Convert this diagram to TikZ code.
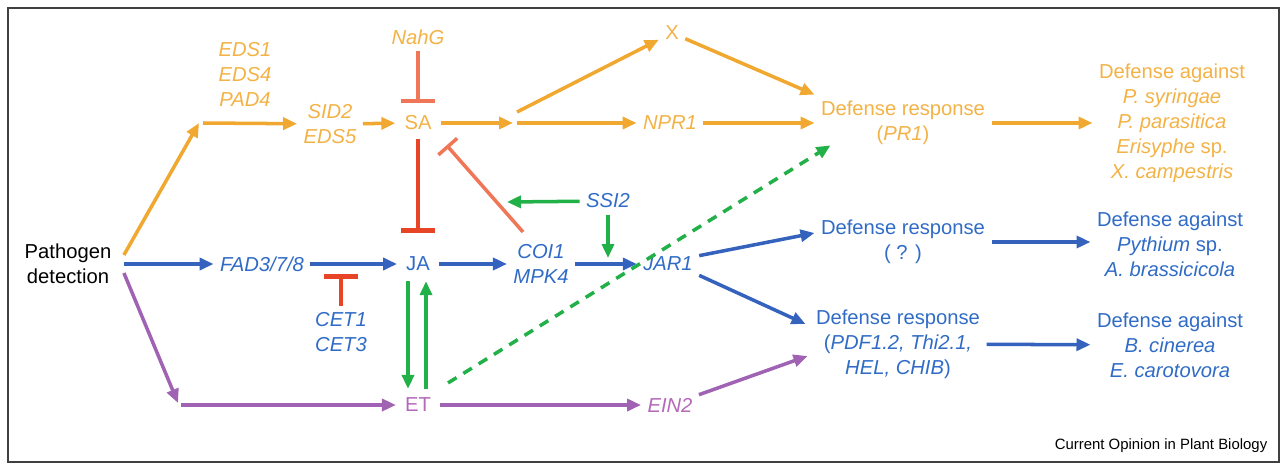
\documentclass[tikz,border=0pt]{standalone}
\usepackage{fontspec}
\setmainfont{Liberation Sans}
\definecolor{SAorange}{RGB}{240,168,48}
\definecolor{SAtext}{RGB}{243,178,70}
\definecolor{JAblue}{RGB}{52,98,188}
\definecolor{JAtext}{RGB}{48,108,198}
\definecolor{ETpurple}{RGB}{160,98,178}
\definecolor{ETtext}{RGB}{180,105,185}
\definecolor{SigGreen}{RGB}{34,176,72}
\definecolor{InhRed}{RGB}{232,68,38}
\definecolor{InhSalmon}{RGB}{240,118,88}
\usetikzlibrary{arrows.meta,calc}

\begin{document}
\begin{tikzpicture}[x=0.02cm,y=-0.02cm,
        every node/.style={font=\fontsize{11.5}{14.2}\selectfont,inner sep=3.5pt,align=center},
        gene/.style={font=\fontsize{11.5}{14.2}\selectfont\itshape},
        small/.style={inner sep=5pt},
        arr/.style={-{Triangle[length=0.28cm,width=0.24cm]},line width=2pt},
        inh/.style={-{Bar[width=0.68cm]},line width=2pt},
        dashln/.style={dash pattern=on 0.2cm off 0.16cm}
      ]
        \useasboundingbox (0,0) rectangle (1287,466);
        \draw[black!75,line width=1.2pt] (8,8) rectangle (1279,462);

        \node[inner sep=7pt] (path) at (68,264) {Pathogen\\detection};
        % SA branch
        \node[gene,SAtext] (eds) at (245,74) {EDS1\\EDS4\\PAD4};
        \node[gene,SAtext] (sid) at (330,124) {SID2\\EDS5};
        \node[small,SAtext] (sa) at (418,123) {SA};
        \node[gene,SAtext] (nahg) at (418,37) {NahG};
        \node[SAtext] (xx) at (672,33) {X};
        \node[gene,SAtext] (npr) at (670,123) {NPR1};
        \node[SAtext] (defsa) at (903,123) {Defense response\\(\textit{PR1})};
        \node[SAtext] (agsa) at (1172,123) {Defense against\\\textit{P. syringae}\\\textit{P. parasitica}\\\textit{Erisyphe} sp.\\\textit{X. campestris}};
        % JA branch
        \node[gene,JAtext] (fad) at (262,264) {FAD3/7/8};
        \node[small,JAtext] (ja) at (418,264) {JA};
        \node[gene,JAtext] (coi) at (541,264) {COI1\\MPK4};
        \node[gene,JAtext] (ssi) at (608,201) {SSI2};
        \node[gene,JAtext] (jar) at (668,264) {JAR1};
        \node[gene,JAtext] (cet) at (341,332) {CET1\\CET3};
        \node[JAtext] (defq) at (903,242) {Defense response\\( ? )};
        \node[JAtext] (defpdf) at (898,344) {Defense response\\(\textit{PDF1.2, Thi2.1,}\\\textit{HEL, CHIB})};
        \node[JAtext] (agq) at (1170,244) {Defense against\\\textit{Pythium} sp.\\\textit{A. brassicicola}};
        \node[JAtext] (agpdf) at (1170,345) {Defense against\\\textit{B. cinerea}\\\textit{E. carotovora}};
        % ET branch
        \node[small,ETtext] (et) at (418,405) {ET};
        \node[gene,ETtext] (ein) at (670,405) {EIN2};
        \node[font=\fontsize{8.5}{10}\selectfont] (credit) at (1161,446) {Current Opinion in Plant Biology};

        \coordinate (oturn) at (199,123);
        \coordinate (obranch) at (513,123);
        \coordinate (pturn) at (178,403);
        \coordinate (ssiend) at (507,202);
        \coordinate (ssidown) at (608,258);
        \coordinate (cetbar) at (341,274);

        \draw[arr,SAorange]($(path.east)+(0,-9)$)--(oturn); \draw[arr,SAorange]($(oturn)+(4,0)$)--(sid);
        \draw[arr,SAorange](sid)--(sa); \draw[arr,SAorange](sa)--(obranch);
        \draw[arr,SAorange]($(obranch)+(4,-11)$)--(xx); \draw[arr,SAorange]($(obranch)+(4,0)$)--(npr);
        \draw[arr,SAorange](xx)--(defsa.north west); \draw[arr,SAorange](npr)--(defsa);
        \draw[arr,SAorange](defsa)--(agsa);

        \draw[arr,JAblue](path.east)--(fad); \draw[arr,JAblue](fad)--(ja);
        \draw[arr,JAblue](ja)--(coi); \draw[arr,JAblue](coi)--(jar);
        \draw[arr,JAblue](jar.15)--($(defq.west)+(0,-9)$);
        \draw[arr,JAblue](jar.-20)--($(defpdf.west)+(-4,-20)$);
        \draw[arr,JAblue](defq.east)--(defq.east -| agq.west); \draw[arr,JAblue](defpdf)--(agpdf);

        \draw[arr,ETpurple]($(path.east)+(0,9)$)--(pturn); \draw[arr,ETpurple]($(pturn)+(3,2)$)--(et);
        \draw[arr,ETpurple](et)--(ein); \draw[arr,ETpurple](ein)--($(defpdf.west)+(-2,12)$);

        \draw[arr,SigGreen](ssi)--(ssiend); \draw[arr,SigGreen](ssi)--(ssidown);
        \draw[arr,SigGreen,line width=2.8pt]($(ja.south)+(-10,1)$)--($(et.north)+(-10,0)$);
        \draw[arr,SigGreen]($(et.north)+(8,0)$)--($(ja.south)+(8,1)$);
        \draw[arr,SigGreen,dashln]($(et.north east)+(8,-6)$)--($(defsa.south west)+(16,-6)$);

        \draw[inh,InhSalmon,shorten >=0.08cm](nahg)--(sa);
        \draw[inh,InhRed,line width=2.6pt,shorten >=0.3cm](sa)--(ja);
        \draw[inh,InhSalmon,-{Bar[width=0.5cm]}]($(coi.north)+(-18,-6)$)--($(sa.south east)+(6,6)$);
        \draw[inh,InhRed,line width=2.6pt](cet)--(cetbar);
      \end{tikzpicture}
\end{document}
